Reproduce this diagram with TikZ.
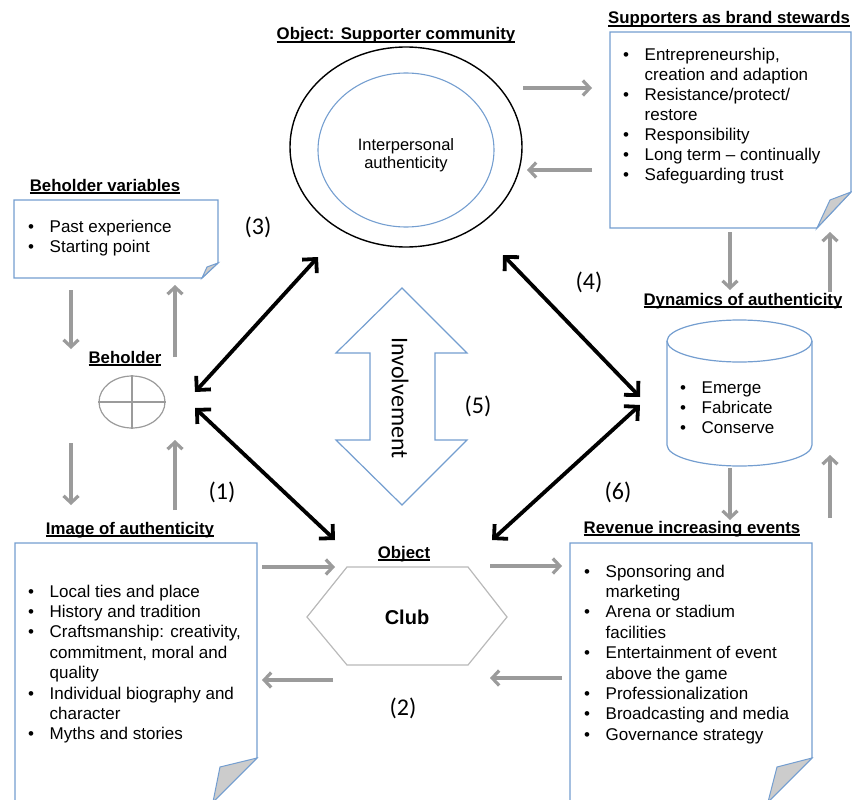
\documentclass[tikz,border=0pt]{standalone}
\usepackage{fontspec}
\setmainfont{Liberation Sans}
\newfontfamily\calib{Carlito}
\usetikzlibrary{arrows.meta,shapes.geometric}
\definecolor{bl}{RGB}{116,158,208}
\definecolor{gr}{RGB}{155,155,155}
\definecolor{hexc}{RGB}{185,185,185}
\newcommand{\myul}[1]{\setbox0\hbox{#1}\rlap{\rule[-2.6pt]{\wd0}{1.2pt}}\box0}
\newcommand{\bu}{\makebox[21.5pt][l]{\textbullet}}
\begin{document}
\begin{tikzpicture}[x=1pt,y=-1pt,
  titletext/.style={font=\fontsize{16.8}{19}\selectfont\bfseries, anchor=base, inner sep=0},
  bodytext/.style={font=\fontsize{17}{20}\selectfont, anchor=base west, inner sep=0},
  bodytextb/.style={font=\fontsize{17}{20.4}\selectfont, anchor=base west, inner sep=0},
  notebox/.style={draw=bl, line width=1.2pt, fill=white},
  foldtri/.style={draw=bl, line width=1pt, fill=black!20},
  bigarrow/.style={line width=3.8pt, black, {Straight Barb[length=10pt,width=20pt]}-{Straight Barb[length=10pt,width=20pt]}},
  grarrow/.style={line width=3.2pt, gr, -{Straight Barb[length=7pt,width=15pt]}},
  lbl/.style={font=\calib\fontsize{24}{26}\selectfont, inner sep=0}]
\useasboundingbox (0,0) rectangle (852,800);
\clip (0,0) rectangle (852,800);

% ---------- Supporter community ----------
\node[titletext] (commtitle) at (396,40) {\myul{Object: Supporter community}};
\node[ellipse, draw=black, line width=1.4pt, minimum width=232pt, minimum height=200pt, inner sep=0] (comm) at (406,147) {};
\node[ellipse, draw=bl, line width=1.1pt, minimum width=176pt, minimum height=154pt, inner sep=0] (inner) at (406,150) {};
\node[font=\fontsize{16.5}{18}\selectfont, align=center, inner sep=0] (interp) at (406,155) {Interpersonal\\authenticity};

% ---------- Supporters as brand stewards ----------
\node[titletext] (stewtitle) at (729,24) {\myul{Supporters as brand stewards}};
\draw[notebox] (610,32) -- (851,32) -- (851,192) -- (817,228) -- (610,228) -- cycle;
\draw[foldtri] (851,192) -- (830,200) -- (817,228) -- cycle;
\node[bodytext] (stew) at (623,61) {\begin{tabular}[t]{@{}l@{}l@{}}
\bu & Entrepreneurship,\\
 & creation and adaption\\
\bu & Resistance/protect/\\
 & restore\\
\bu & Responsibility\\
\bu & Long term -- continually\\
\bu & Safeguarding trust
\end{tabular}};

% ---------- Beholder variables ----------
\node[titletext] (bvtitle) at (105,191) {\myul{Beholder variables}};
\draw[notebox] (14,200) -- (218,200) -- (218,263) -- (202,278) -- (14,278) -- cycle;
\draw[foldtri] (218,263) -- (207,267) -- (202,278) -- cycle;
\node[bodytext] (bvars) at (28,232) {\begin{tabular}[t]{@{}l@{}l@{}}
\bu & Past experience\\
\bu & Starting point
\end{tabular}};

% ---------- Beholder ----------
\node[titletext] (behtitle) at (125,363) {\myul{Beholder}};
\node[ellipse, draw=gr, line width=1.2pt, minimum width=66pt, minimum height=52pt, inner sep=0] (behold) at (132,402) {};
\draw[gr, line width=1.2pt] (behold.west) -- (behold.east);
\draw[gr, line width=1.2pt] (behold.north) -- (behold.south);

% ---------- Image of authenticity ----------
\node[titletext] (imgtitle) at (130,534) {\myul{Image of authenticity}};
\draw[notebox] (15,806) -- (15,543) -- (257,543) -- (257,758) -- (213,802) -- (15,806);
\draw[foldtri] (257,758) -- (220,767) -- (213,802) -- cycle;
\node[bodytextb] (image) at (28,597) {\begin{tabular}[t]{@{}l@{}l@{}}
\bu & Local ties and place\\
\bu & History and tradition\\
\bu & Craftsmanship: creativity,\\
 & commitment, moral and\\
 & quality\\
\bu & Individual biography and\\
 & character\\
\bu & Myths and stories
\end{tabular}};

% ---------- Object / Club ----------
\node[titletext] (objtitle) at (404,558) {\myul{Object}};
\draw[hexc, line width=1.2pt] (307,617) -- (347,567) -- (468,567) -- (507,617) -- (468,665) -- (347,665) -- cycle;
\node[font=\fontsize{20}{22}\selectfont\bfseries, inner sep=0] (club) at (407,617) {Club};

% ---------- Revenue increasing events ----------
\node[titletext] (revtitle) at (692,533) {\myul{Revenue increasing events}};
\draw[notebox] (570,806) -- (570,543) -- (812,543) -- (812,758) -- (768,802) -- (570,806);
\draw[foldtri] (812,758) -- (777,767) -- (768,802) -- cycle;
\node[bodytextb] (revenue) at (584,577) {\begin{tabular}[t]{@{}l@{}l@{}}
\bu & Sponsoring and\\
 & marketing\\
\bu & Arena or stadium\\
 & facilities\\
\bu & Entertainment of event\\
 & above the game\\
\bu & Professionalization\\
\bu & Broadcasting and media\\
\bu & Governance strategy
\end{tabular}};

% ---------- Dynamics of authenticity ----------
\node[titletext] (dyntitle) at (743,305) {\myul{Dynamics of authenticity}};
\draw[bl, line width=1.2pt, fill=white] (667,341) -- (667,445) arc[start angle=180, end angle=360, x radius=72.5pt, y radius=21pt] -- (812,341);
\draw[bl, line width=1.2pt] (739.5,341) ellipse [x radius=72.5pt, y radius=21pt];
\node[bodytext] (dyn) at (680,393) {\begin{tabular}[t]{@{}l@{}l@{}}
\bu & Emerge\\
\bu & Fabricate\\
\bu & Conserve
\end{tabular}};

% ---------- Involvement arrow ----------
\draw[bl, line width=1.2pt, fill=white] (402,288) -- (467,353) -- (435,353) -- (435,440) -- (467,440) -- (402,505) -- (336,440) -- (370,440) -- (370,353) -- (336,353) -- cycle;
\node[font=\calib\fontsize{24}{26}\selectfont, rotate=-90, inner sep=0] (invol) at (400,398) {Involvement};

% ---------- labels ----------
\node[lbl] (l3) at (258,227) {(3)};
\node[lbl] (l4) at (589,282) {(4)};
\node[lbl] (l1) at (222,492) {(1)};
\node[lbl] (l6) at (618,492) {(6)};
\node[lbl] (l5) at (478,406) {(5)};
\node[lbl] (l2) at (403,708) {(2)};

% ---------- connector end points ----------
\coordinate (a3b) at (195,392);  \coordinate (a3c) at (318,257);
\coordinate (a1b) at (195,408);  \coordinate (a1c) at (335,540);
\coordinate (a4c) at (503,255);  \coordinate (a4d) at (640,397);
\coordinate (a6d) at (640,405);  \coordinate (a6c) at (492,540);

\coordinate (g1s) at (523,88);   \coordinate (g1e) at (592,88);
\coordinate (g2s) at (592,170);  \coordinate (g2e) at (527,170);
\coordinate (g3s) at (71,290);   \coordinate (g3e) at (71,349);
\coordinate (g4s) at (175,357);  \coordinate (g4e) at (175,285);
\coordinate (g5s) at (71,443);   \coordinate (g5e) at (71,505);
\coordinate (g6s) at (175,510);  \coordinate (g6e) at (175,440);
\coordinate (g7s) at (262,567);  \coordinate (g7e) at (335,567);
\coordinate (g8s) at (333,680);  \coordinate (g8e) at (262,680);
\coordinate (g9s) at (490,566);  \coordinate (g9e) at (562,566);
\coordinate (g10s) at (562,678); \coordinate (g10e) at (490,678);
\coordinate (g11s) at (730,232); \coordinate (g11e) at (730,290);
\coordinate (g12s) at (830,292); \coordinate (g12e) at (830,232);
\coordinate (g13s) at (730,468); \coordinate (g13e) at (730,520);
\coordinate (g14s) at (830,518); \coordinate (g14e) at (830,455);

% ---------- black double arrows ----------
\draw[bigarrow] (a3b) -- (a3c);
\draw[bigarrow] (a1b) -- (a1c);
\draw[bigarrow] (a4c) -- (a4d);
\draw[bigarrow] (a6d) -- (a6c);

% ---------- grey arrows ----------
\foreach \i in {1,...,14} {\draw[grarrow] (g\i s) -- (g\i e);}
\end{tikzpicture}
\end{document}
